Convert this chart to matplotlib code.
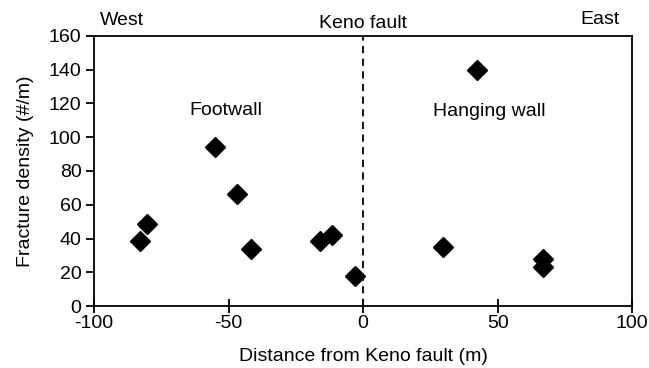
import matplotlib
matplotlib.use("Agg")
import matplotlib.pyplot as plt

plt.rcParams['font.family'] = ['Liberation Sans', 'DejaVu Sans']
plt.rcParams['axes.unicode_minus'] = False

# distance from the fault (m) and fracture density (#/m)
distance = [-82.8, -80.4, -54.9, -46.8, -41.6, -16.1, -11.5, -2.9, 29.7, 42.5, 66.7, 66.7]
density = [38.5, 48.9, 93.9, 66.4, 33.7, 38.5, 42.0, 17.6, 34.9, 140.0, 27.8, 23.1]

xticks = [-100, -50, 0, 50, 100]
yticks = [0, 20, 40, 60, 80, 100, 120, 140, 160]

fs = 14

fig = plt.figure(figsize=(6.49, 3.68), dpi=100)
ax = fig.add_axes([0.145, 0.168, 0.829, 0.735])

ax.plot(distance, density, linestyle='none', marker='D', markersize=10,
        color='black')
ax.axvline(0, color='black', linestyle=(0, (4, 3)), linewidth=1.3)

ax.set_xlim(-100, 100)
ax.set_ylim(0, 160)
ax.set_xticks(xticks)
ax.set_yticks(yticks)
ax.tick_params(axis='x', direction='inout', length=10, width=1.3, labelsize=fs, pad=1)
ax.tick_params(axis='y', direction='out', length=6, width=1.3, labelsize=fs, pad=3)
for s in ax.spines.values():
    s.set_linewidth(1.3)

ax.set_xlabel('Distance from Keno fault (m)', fontsize=fs, labelpad=12)
ax.set_ylabel('Fracture density (#/m)', fontsize=fs, labelpad=11)

ax.text(-98, 164, 'West', fontsize=fs, ha='left', va='bottom')
ax.text(0, 162, 'Keno fault', fontsize=fs, ha='center', va='bottom')
ax.text(95.5, 164.5, 'East', fontsize=fs, ha='right', va='bottom')
ax.text(-51, 116, 'Footwall', fontsize=fs, ha='center', va='center')
ax.text(47, 115, 'Hanging wall', fontsize=fs, ha='center', va='center')

fig.savefig('out.png', dpi=100)
